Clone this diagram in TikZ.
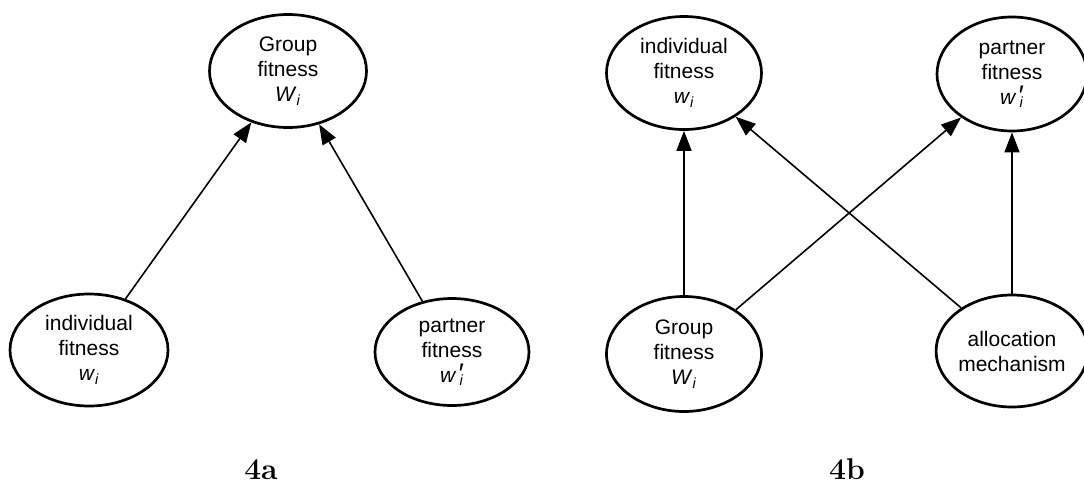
\documentclass[tikz,border=0pt]{standalone}
\usepackage{fontspec}
\setsansfont{Liberation Sans}
\usetikzlibrary{shapes.geometric,arrows.meta}
\newcommand{\symWi}{\textit{W}\textsubscript{\textit{i}}}
\newcommand{\symwi}{\textit{w}\textsubscript{\textit{i}}}
\newcommand{\symwpi}{\textit{w}\kern0.04em\raisebox{-0.08em}{\scalebox{1.35}{\itshape\char"2032}}\kern-0.14em\textsubscript{\textit{i}}}
\begin{document}
\begin{tikzpicture}[x=1pt,y=-1pt,
  ell/.style={ellipse, draw, line width=2.7pt, inner sep=0pt, align=center,
    font=\sffamily\fontsize{21}{25}\selectfont},
  arr/.style={line width=1.6pt, -{Triangle[length=20pt,width=15pt]}},
  lab/.style={font=\rmfamily\bfseries\fontsize{30}{32}\selectfont, anchor=base}]
\useasboundingbox (0,0) rectangle (1084,485);
\clip (0,0) rectangle (1084,485);
% 4a
\node[ell, minimum width=157pt, minimum height=113pt] (ga) at (288,71) {Group\\fitness\\\symWi};
\node[ell, minimum width=158pt, minimum height=112pt] (ia) at (89,350) {individual\\fitness\\\symwi};
\node[ell, minimum width=154pt, minimum height=107pt] (pa) at (452,352) {partner\\fitness\\\symwpi};
\draw[arr] (ia) -- (ga);
\draw[arr] (pa) -- (ga);
\node[lab] (la) at (261,479) {4a};
% 4b
\node[ell, minimum width=155pt, minimum height=113pt] (ib) at (684,73) {individual\\fitness\\\symwi};
\node[ell, minimum width=150pt, minimum height=114pt] (pb) at (1012,74) {partner\\fitness\\\symwpi};
\node[ell, minimum width=155pt, minimum height=115pt] (gb) at (684,354) {Group\\fitness\\\symWi};
\node[ell, minimum width=150pt, minimum height=112pt] (al) at (1012,351) {allocation\\mechanism};
\draw[arr] (gb) -- (ib);
\draw[arr] (gb) -- (pb);
\draw[arr] (al) -- (ib);
\draw[arr] (al) -- (pb);
\node[lab] (lb) at (847,479) {4b};
\end{tikzpicture}
\end{document}
